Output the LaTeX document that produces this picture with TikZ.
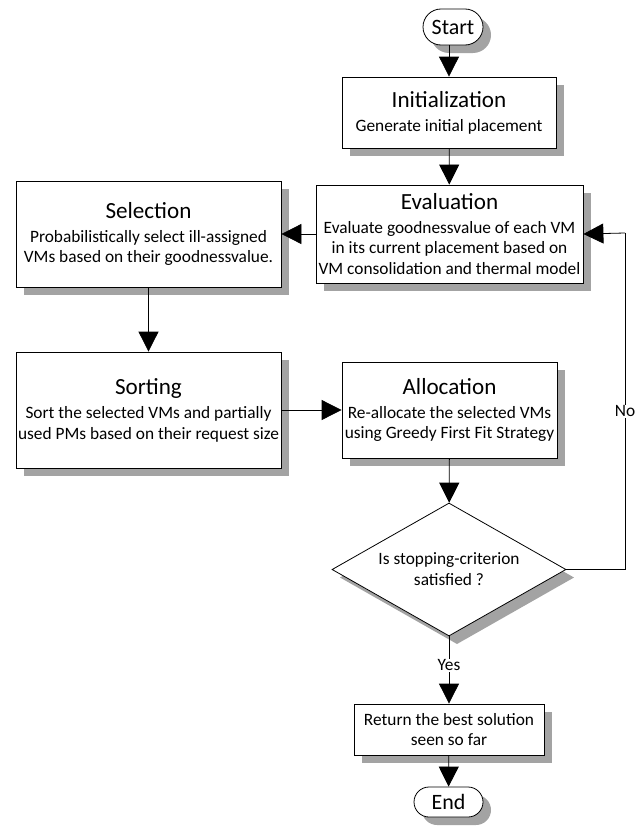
\documentclass[tikz,border=0pt]{standalone}
\usepackage{fontspec}
\setmainfont{Carlito}
\usetikzlibrary{shapes.geometric,shapes.misc,arrows.meta}
\newcommand{\bodyfont}{\fontsize{17.4}{21}\selectfont}
\newcommand{\ttl}[1]{{\fontsize{23.2}{27}\selectfont #1}\\[3bp]}
\begin{document}
\begin{tikzpicture}[x=1bp,y=-1bp,
  shadowrect/.style={fill=black!36,draw=none,inner sep=0pt,outer sep=0pt},
  shadowterm/.style={rounded rectangle,fill=black!36,draw=none,inner sep=0pt,outer sep=0pt},
  shadowdia/.style={diamond,aspect=1.76,fill=black!36,draw=none,inner sep=0pt,outer sep=0pt},
  procbox/.style={draw,fill=white,line width=0.8bp,inner sep=0pt,align=center,font=\bodyfont},
  termbox/.style={rounded rectangle,draw,fill=white,line width=0.8bp,inner sep=0pt,font=\fontsize{22}{26}\selectfont},
  decbox/.style={diamond,aspect=1.76,draw,fill=white,line width=0.8bp,inner sep=0pt,align=center,font=\bodyfont},
  conn/.style={line width=0.8bp,-{Triangle[length=20bp,width=20bp]}},
  lbl/.style={fill=white,inner sep=1bp,font=\bodyfont}]
\useasboundingbox (0,0) rectangle (642,833);

% shadows
\node[shadowterm,minimum width=60bp,minimum height=36bp] (startsh) at (461,35) {};
\node[shadowrect,minimum width=214bp,minimum height=71bp] (initsh) at (457,120.5) {};
\node[shadowrect,minimum width=267bp,minimum height=98bp] (evalsh) at (457.5,242) {};
\node[shadowrect,minimum width=265bp,minimum height=106bp] (selsh) at (156.5,242) {};
\node[shadowrect,minimum width=265bp,minimum height=116bp] (sortsh) at (156.5,418) {};
\node[shadowrect,minimum width=215bp,minimum height=96bp] (allocsh) at (457.5,418) {};
\node[shadowdia,minimum width=234bp,minimum height=133bp] (decsh) at (457,577.5) {};
\node[shadowrect,minimum width=190bp,minimum height=51bp] (retsh) at (457,737.5) {};
\node[shadowterm,minimum width=69bp,minimum height=30bp] (endsh) at (456.5,810) {};

% shapes
\node[termbox,minimum width=60bp,minimum height=36bp] (start) at (453,27) {Start};
\node[procbox,minimum width=214bp,minimum height=71bp] (init) at (449,112.5)
  {\ttl{Initialization}Generate initial placement};
\node[procbox,minimum width=267bp,minimum height=98bp] (eval) at (449.5,234)
  {\ttl{Evaluation}Evaluate goodnessvalue of each VM\\in its current placement based on\\VM consolidation and thermal model};
\node[procbox,minimum width=265bp,minimum height=106bp] (sel) at (148.5,234)
  {\ttl{Selection}Probabilistically select ill-assigned\\VMs based on their goodnessvalue.};
\node[procbox,minimum width=265bp,minimum height=116bp] (sort) at (148.5,410)
  {\ttl{Sorting}Sort the selected VMs and partially\\used PMs based on their request size};
\node[procbox,minimum width=215bp,minimum height=96bp] (alloc) at (449.5,410)
  {\ttl{Allocation}Re-allocate the selected VMs\\using Greedy First Fit Strategy};
\node[decbox,minimum width=234bp,minimum height=133bp] (dec) at (449,569.5)
  {Is stopping-criterion\\satisfied ?};
\node[procbox,minimum width=190bp,minimum height=51bp] (ret) at (449,729.5)
  {Return the best solution\\seen so far};
\node[termbox,minimum width=69bp,minimum height=30bp] (end) at (448.5,802) {End};

\coordinate (nocorner1) at (625,569.5);
\coordinate (nocorner2) at (625,233);

\draw[conn] (start.south -| init.north) -- (init.north);
\draw[conn] (init) -- (eval);
\draw[conn] (eval.west) -- (sel.east);
\draw[conn] (sel) -- (sort);
\draw[conn] (sort.east) -- (alloc.west);
\draw[conn] (alloc) -- (dec);
\draw[conn] (dec) -- node[lbl,pos=0.43]{Yes} (ret);
\draw[conn] (ret) -- (end);
\draw[line width=0.8bp] (dec.east) -- (nocorner1) -- node[lbl,pos=0.47]{No} (nocorner2);
\draw[conn] (nocorner2) -- (eval.east);
\end{tikzpicture}
\end{document}
